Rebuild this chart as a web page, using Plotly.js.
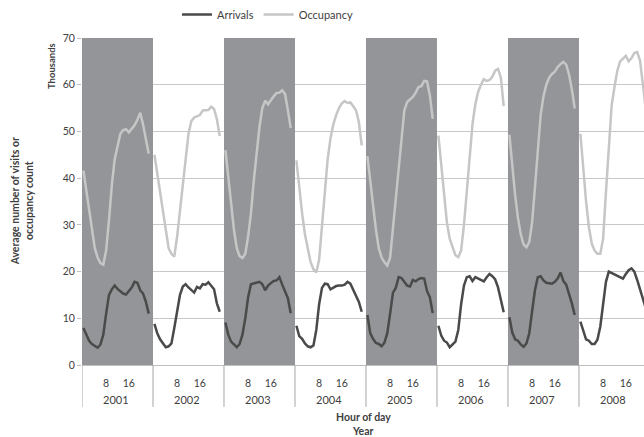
<!DOCTYPE html>
<html>
<head>
<meta charset="utf-8">
<script src="https://cdn.plot.ly/plotly-3.0.1.min.js"></script>
<style>html,body{margin:0;padding:0;background:#fff;}#chart{width:644px;height:437px;}</style>
</head>
<body>
<div id="chart"></div>
<script>
const years = ["2001","2002","2003","2004","2005","2006","2007","2008"];
const hours = [0,1,2,3,4,5,6,7,8,9,10,11,12,13,14,15,16,17,18,19,20,21,22,23];
const hourTicks = [8, 16];
const shadedYears = ["2001","2003","2005","2007"];

const arrivals = [
  [7.9, 6.4, 5.2, 4.5, 4.1, 3.7, 4.4, 6.5, 11, 15, 16.2, 17, 16.3, 15.7, 15.3, 15.1, 15.8, 16.6, 17.8, 17.6, 16, 15.3, 13.5, 11],
  [8.8, 6.8, 5.5, 4.5, 3.8, 4.0, 4.6, 7.9, 11.5, 15, 16.8, 17.3, 16.6, 16.1, 15.5, 16.7, 16.4, 17.3, 17.2, 17.7, 16.9, 16.2, 13.2, 11.4],
  [9.1, 6.5, 5.0, 4.5, 3.8, 4.5, 6.5, 10, 14.5, 17.3, 17.5, 17.6, 17.8, 17.3, 16.0, 17.0, 17.6, 18.0, 18.1, 18.8, 17.2, 15.8, 14.3, 11.1],
  [8.4, 6.2, 5.6, 4.6, 4.0, 3.8, 4.2, 7.5, 13, 16.5, 17.4, 17.3, 16.2, 16.6, 16.9, 17.0, 17.0, 17.2, 17.8, 17.4, 16.1, 15, 13.5, 11.4],
  [10.7, 6.8, 5.6, 4.7, 4.5, 4.0, 4.8, 6.8, 11, 15.5, 16.5, 18.8, 18.6, 17.8, 17, 16.8, 18.2, 17.9, 18.4, 18.6, 18.5, 15.8, 14.5, 11.1],
  [8.4, 6.3, 5.2, 4.8, 3.8, 4.3, 5.0, 7.5, 13, 17, 18.8, 19, 18, 18.8, 18.5, 18.2, 17.9, 18.8, 19.5, 19, 18.3, 16.6, 14, 11.3],
  [10.2, 7, 5.5, 5.2, 4.4, 3.9, 4.6, 6.8, 11.5, 16, 18.8, 19, 18.1, 17.6, 17.5, 17.4, 17.8, 18.5, 19.8, 18, 17.2, 15.3, 13.2, 10.7],
  [9.3, 7.1, 5.5, 5.2, 4.5, 4.5, 5.4, 8.2, 13, 17.8, 20, 19.7, 19.5, 19.2, 18.8, 18.5, 19.5, 20.3, 20.7, 20, 18.2, 16.2, 13.8, 12.2]
];

const occupancy = [
  [41.6, 37.5, 33, 28.5, 25, 23, 21.8, 21.5, 24.5, 31, 38.5, 44, 47, 49.5, 50.3, 50.5, 49.8, 50.5, 51.3, 52.5, 54, 51.5, 48.5, 45.2],
  [45, 41, 37.5, 32.5, 28.5, 25, 23.8, 23.2, 27.5, 33.5, 38.5, 44, 49.5, 52.2, 53, 53.2, 53.5, 54.5, 54.5, 54.6, 55.3, 54.8, 52.6, 49],
  [46, 40.5, 34.5, 29, 25, 23.3, 22.9, 23.8, 27.5, 32.5, 39.5, 46, 51, 55, 56.6, 55.8, 56.8, 57.5, 58.2, 58.3, 58.8, 58, 54.5, 50.7],
  [43.8, 37.5, 32.5, 28, 24.9, 22, 20.5, 19.8, 22.5, 30, 37.5, 44, 48.5, 51.5, 53.5, 55, 56, 56.5, 56.1, 56.2, 55.4, 54.5, 52, 47],
  [44.7, 39, 34.5, 29, 25, 23, 22, 21.3, 23, 29, 35.2, 41.3, 47.7, 54.5, 56.3, 56.9, 57.4, 58.3, 59.5, 59.7, 60.8, 60.7, 57.7, 52.7],
  [49.1, 43, 36, 30.5, 27, 25, 23.5, 23.1, 24.5, 30, 37.5, 45.5, 51.5, 55.8, 58.5, 60, 61.2, 60.8, 61, 61.7, 63, 63.4, 61.5, 55.4],
  [49.3, 42.5, 36.5, 31.5, 28, 25.8, 25.2, 26.3, 30.5, 38, 46, 53.5, 57.5, 60, 61.5, 62.3, 62.8, 63.8, 64.4, 64.9, 64.3, 62.2, 59, 54.9],
  [49.5, 42, 35, 29.5, 26, 24.5, 23.8, 23.8, 27, 37, 47.5, 55.5, 59.5, 63, 65, 65.5, 66.2, 65, 65.7, 66.8, 67, 65.2, 60.5, 55]
];

// Each year occupies 25 category slots (24 hours + one empty slot as in the source)
const SLOTS = 25;
function build(series) {
  const xs = [], ys = [];
  years.forEach((y, k) => {
    hours.forEach((h, i) => { xs.push(k * SLOTS + h); ys.push(series[k][i]); });
    xs.push(k * SLOTS + 24); ys.push(null);
  });
  return {xs, ys};
}
const a = build(arrivals), o = build(occupancy);

const FONT = "Lato, 'Open Sans', sans-serif";
const traces = [
  {type: 'scatter', mode: 'lines', name: 'Arrivals', x: a.xs, y: a.ys, connectgaps: false,
   line: {color: '#4a4a4a', width: 2.5}},
  {type: 'scatter', mode: 'lines', name: 'Occupancy', x: o.xs, y: o.ys, connectgaps: false,
   line: {color: '#c6c6c6', width: 2.5}}
];

const tickvals = [], ticktext = [];
years.forEach((y, k) => hourTicks.forEach(h => { tickvals.push(k * SLOTS + h); ticktext.push(String(h)); }));

const shapes = [];
years.forEach((y, k) => {
  if (shadedYears.includes(y)) {
    shapes.push({type: 'rect', xref: 'x', yref: 'y', x0: k * SLOTS - 0.5, x1: k * SLOTS + SLOTS - 0.5, y0: 0, y1: 70,
      fillcolor: '#939598', line: {width: 0}, layer: 'between'});
  }
  shapes.push({type: 'line', xref: 'x', yref: 'paper', x0: k * SLOTS - 0.5, x1: k * SLOTS - 0.5, y0: 0, y1: -0.128,
    line: {color: '#a6a6a6', width: 1}, layer: 'above'});
});

const annotations = years.map((y, k) => ({
  text: y, xref: 'x', yref: 'paper', x: k * SLOTS + 11.5, y: -0.107, showarrow: false,
  font: {family: FONT, size: 11, color: '#404040'}, xanchor: 'center', yanchor: 'middle'
}));
annotations.push(
  {text: '<b>Hour of day</b>', xref: 'paper', yref: 'paper', x: 0.5, y: -0.160, showarrow: false,
   font: {family: FONT, size: 10.5, color: '#404040'}, xanchor: 'center', yanchor: 'middle'},
  {text: '<b>Year</b>', xref: 'paper', yref: 'paper', x: 0.5, y: -0.203, showarrow: false,
   font: {family: FONT, size: 10.5, color: '#404040'}, xanchor: 'center', yanchor: 'middle'},
  {text: '<b>Thousands</b>', xref: 'paper', yref: 'paper', x: -0.053, y: 0.915, textangle: -90, showarrow: false,
   font: {family: FONT, size: 9.5, color: '#404040'}, xanchor: 'center', yanchor: 'middle'},
  {text: '<b>Average number of visits or<br>occupancy count</b>', xref: 'paper', yref: 'paper', x: -0.107, y: 0.5,
   textangle: -90, showarrow: false, font: {family: FONT, size: 10.5, color: '#404040'},
   xanchor: 'center', yanchor: 'middle'}
);

const layout = {
  width: 644, height: 437,
  margin: {l: 82, r: 0, t: 38, b: 72, pad: 0},
  paper_bgcolor: '#ffffff', plot_bgcolor: '#ffffff',
  font: {family: FONT, size: 10, color: '#595959'},
  showlegend: true,
  legend: {orientation: 'h', x: 0.33, xanchor: 'center', y: 1.073, yanchor: 'middle',
           font: {family: FONT, size: 11, color: '#404040'}, bgcolor: 'rgba(0,0,0,0)', itemwidth: 30},
  xaxis: {range: [-0.5, 197.4], tickvals: tickvals, ticktext: ticktext, ticks: 'outside', ticklen: 8,
          tickcolor: 'rgba(0,0,0,0)', showgrid: false, zeroline: false, showline: true, linecolor: '#bfbfbf',
          linewidth: 1, tickfont: {family: FONT, size: 10.5, color: '#404040'}, fixedrange: true},
  yaxis: {range: [0, 70], tickvals: [0,10,20,30,40,50,60,70], ticks: 'outside', ticklen: 4, tickcolor: '#bfbfbf',
          showgrid: true, gridcolor: '#c8c8c8', gridwidth: 1, zeroline: false, showline: false,
          tickfont: {family: FONT, size: 10.5, color: '#404040'}, fixedrange: true},
  shapes: shapes,
  annotations: annotations
};

Plotly.newPlot('chart', traces, layout, {displayModeBar: false, staticPlot: true});
</script>
</body>
</html>
